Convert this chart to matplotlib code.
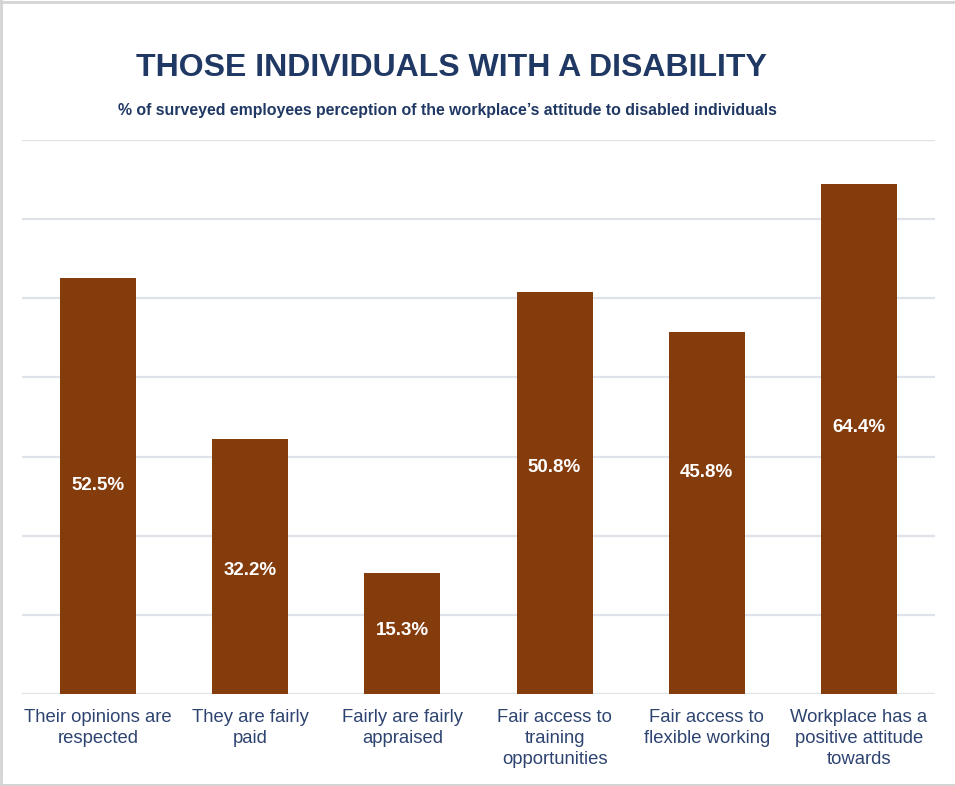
import matplotlib
matplotlib.use('AGG')

import numpy as np
import matplotlib.pyplot as plt
from matplotlib.lines import Line2D

categories = ['Their opinions are\nrespected',
              'They are fairly\npaid',
              'Fairly are fairly\nappraised',
              'Fair access to\ntraining\nopportunities',
              'Fair access to\nflexible working',
              'Workplace has a\npositive attitude\ntowards']
values = [52.5, 32.2, 15.3, 50.8, 45.8, 64.4]

title = 'THOSE INDIVIDUALS WITH A DISABILITY'
subtitle = '% of surveyed employees perception of the workplace\u2019s attitude to disabled individuals'

# where each value label sits inside its bar (same units as the y axis)
label_y = [26.3, 15.6, 8.0, 28.6, 28.0, 33.7]

bar_color = '#843C0C'
navy = '#203864'
label_color = '#2E4470'
grid_color = '#DEE3EA'

plt.rcParams['font.family'] = ['Liberation Sans', 'DejaVu Sans']

fig = plt.figure(figsize=(9.55, 7.86), dpi=100)
ax = fig.add_axes([22 / 955, 92 / 786, 913 / 955, 554 / 786])

x = np.arange(len(categories))
bars = ax.bar(x, values, width=0.5, color=bar_color, zorder=3)

for b, v, ly in zip(bars, values, label_y):
    ax.text(b.get_x() + b.get_width() / 2, ly, '%.1f%%' % v,
            ha='center', va='center', color='white',
            fontsize=13.5, fontweight='bold', zorder=4)

ax.set_xlim(-0.5, len(categories) - 0.5)
ax.set_ylim(0, 70)
ax.set_yticks(np.arange(0, 71, 10))
ax.set_yticklabels([])
ax.yaxis.grid(True, color=grid_color, linewidth=1.6, zorder=0)
ax.tick_params(axis='both', length=0)
ax.set_xticks(x)
ax.set_xticklabels(categories, fontsize=13.3, color=label_color,
                   linespacing=1.3, va='top')
ax.tick_params(axis='x', pad=11)
for s in ax.spines.values():
    s.set_visible(False)

fig.text(0.4728, 0.913, title, ha='center', va='center',
         fontsize=23, fontweight='bold', color=navy)
fig.text(0.4686, 0.859, subtitle, ha='center', va='center',
         fontsize=11.4, fontweight='bold', color=navy)

# frame on top, left and bottom
border = '#D4D4D4'
fig.add_artist(Line2D([0.001, 0.001], [0, 1], transform=fig.transFigure, color=border, linewidth=2))
fig.add_artist(Line2D([0, 1], [0.998, 0.998], transform=fig.transFigure, color=border, linewidth=2))
fig.add_artist(Line2D([0, 1], [0.0015, 0.0015], transform=fig.transFigure, color=border, linewidth=1.5))

fig.savefig('out.png', dpi=100)
